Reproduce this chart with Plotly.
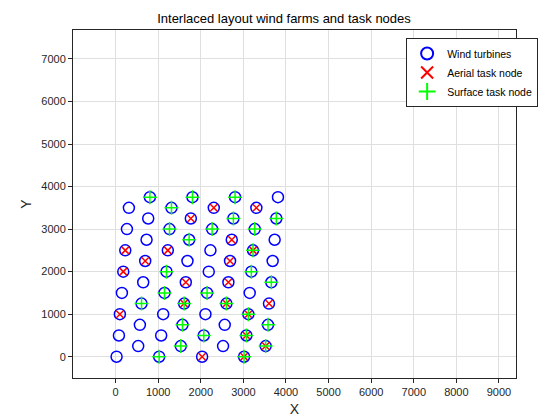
import plotly.graph_objects as go

# wind turbine positions, one list per row (16 rows, 4 per row)
row_y = [0, 250, 500, 750, 1000, 1250, 1500, 1750, 2000, 2250, 2500, 2750, 3000, 3250, 3500, 3750]
row_x = [
    [23, 1023, 2031, 3016],
    [531, 1531, 2523, 3523],
    [78, 1070, 2070, 3070],
    [570, 1570, 2562, 3578],
    [100, 1117, 2109, 3117],
    [609, 1609, 2601, 3601],
    [148, 1148, 2148, 3148],
    [648, 1648, 2648, 3656],
    [180, 1195, 2187, 3187],
    [695, 1687, 2687, 3687],
    [227, 1226, 2226, 3226],
    [727, 1727, 2727, 3734],
    [266, 1266, 2266, 3266],
    [766, 1766, 2766, 3773],
    [312, 1312, 2305, 3305],
    [805, 1805, 2805, 3812],
]
# task type per turbine: '' none, 'a' aerial, 's' surface, 'as' both
row_task = [
    ['', 's', 'a', 'as'],
    ['', 's', '', 'as'],
    ['', '', 's', 'as'],
    ['', 's', '', 's'],
    ['a', '', '', 'as'],
    ['s', 'as', 'as', 'a'],
    ['', 's', 's', ''],
    ['', 'a', 'a', 's'],
    ['a', 's', '', 's'],
    ['a', '', 'a', ''],
    ['a', 'a', '', 'as'],
    ['', 's', 'a', ''],
    ['', 's', 's', 's'],
    ['', 'a', 's', 's'],
    ['', 's', 'a', 'a'],
    ['s', 's', 's', ''],
]

tx, ty, ax_, ay_, sx, sy = [], [], [], [], [], []
for y, xs, ts in zip(row_y, row_x, row_task):
    for x, t in zip(xs, ts):
        tx.append(x); ty.append(y)
        if 'a' in t:
            ax_.append(x); ay_.append(y)
        if 's' in t:
            sx.append(x); sy.append(y)

fig = go.Figure()
fig.add_trace(go.Scatter(x=tx, y=ty, mode='markers', name='Wind turbines',
                         marker=dict(symbol='circle-open', size=11, color='#0000ff',
                                     line=dict(width=1.5, color='#0000ff'))))
fig.add_trace(go.Scatter(x=ax_, y=ay_, mode='markers', name='Aerial task node',
                         marker=dict(symbol='x-thin', size=7, color='#ff0000',
                                     line=dict(width=1.5, color='#ff0000'))))
fig.add_trace(go.Scatter(x=sx, y=sy, mode='markers', name='Surface task node',
                         marker=dict(symbol='cross-thin', size=10, color='#00ff00',
                                     line=dict(width=1.5, color='#00ff00'))))

axis_style = dict(showgrid=True, gridcolor='#dfdfdf', zeroline=False, showline=True,
                  linecolor='#262626', mirror=True, ticks='outside', ticklen=4,
                  tickcolor='#262626', tickfont=dict(size=11, color='#262626'),
                  automargin=False)
fig.update_xaxes(range=[-1000, 9400], tickvals=list(range(0, 9001, 1000)),
                 title=dict(text='X', font=dict(size=14, color='#262626'), standoff=6), **axis_style)
fig.update_yaxes(range=[-500, 7680], tickvals=list(range(0, 7001, 1000)),
                 title=dict(text='Y', font=dict(size=14, color='#262626'), standoff=6), **axis_style)
fig.update_layout(
    width=552, height=412, plot_bgcolor='white', paper_bgcolor='white',
    margin=dict(l=65, r=44, t=22, b=42, autoexpand=False),
    font=dict(family='Liberation Sans, Arial', color='#262626'),
    title=dict(text='Interlaced layout wind farms and task nodes', x=0.5, y=0.975,
               xanchor='center', yanchor='middle', font=dict(size=13, color='#000000')),
    legend=dict(x=0.752, y=0.977, xanchor='left', yanchor='top', bgcolor='white',
                bordercolor='#262626', borderwidth=1, font=dict(size=10.5, color='#000000'),
                tracegroupgap=0, itemsizing='constant', itemwidth=30),
)
fig.write_html("out.html")
